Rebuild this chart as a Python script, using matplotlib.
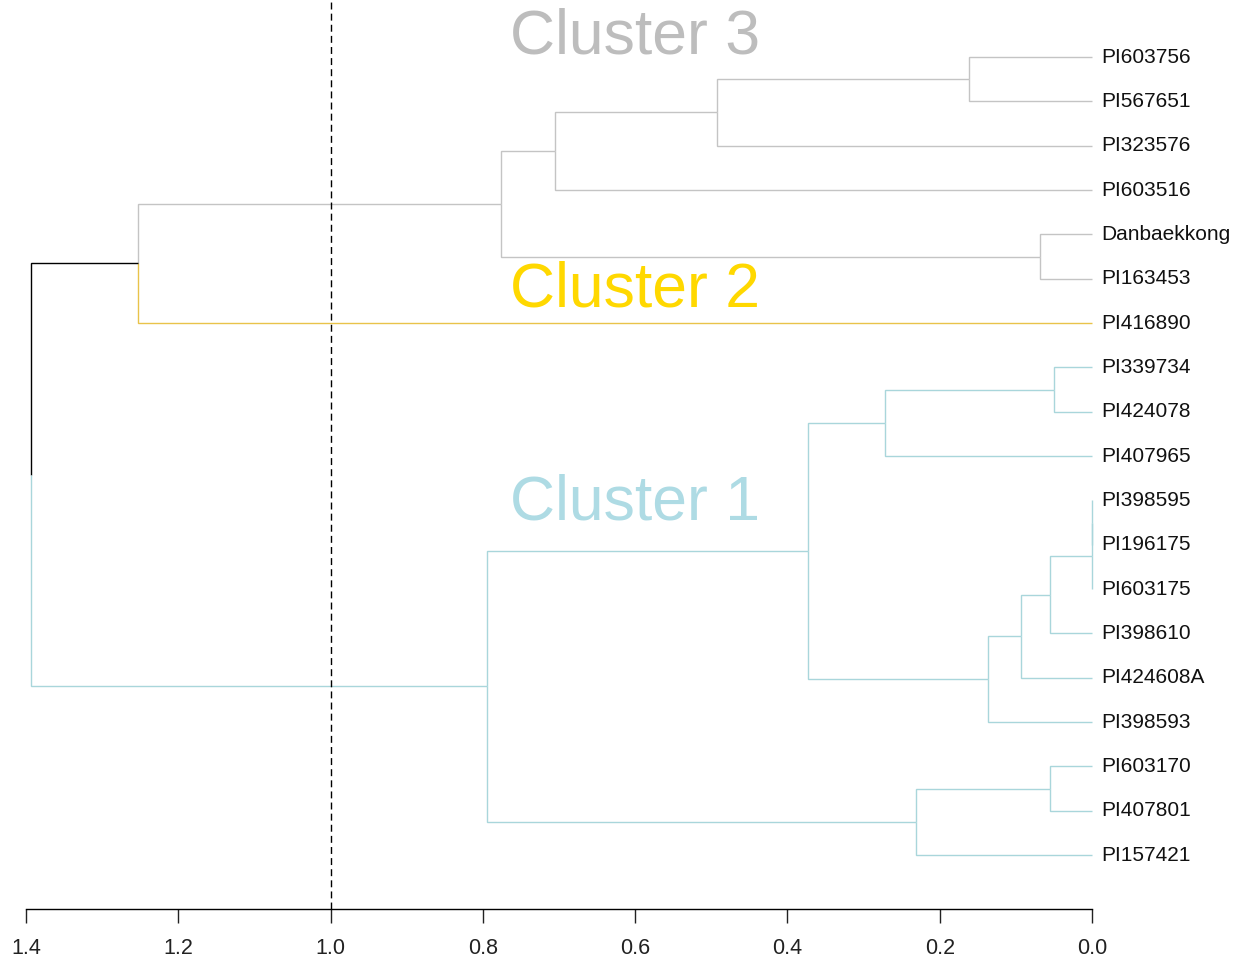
import matplotlib
matplotlib.use("Agg")
from matplotlib import pyplot as plt
from matplotlib import transforms

plt.rcParams['font.family'] = ['Liberation Sans', 'DejaVu Sans']

# leaves, top to bottom
leaves = ["PI603756", "PI567651", "PI323576", "PI603516", "Danbaekkong", "PI163453",
          "PI416890", "PI339734", "PI424078", "PI407965", "PI398595", "PI196175",
          "PI603175", "PI398610", "PI424608A", "PI398593", "PI603170", "PI407801",
          "PI157421"]
leaf_cluster = [3, 3, 3, 3, 3, 3, 2, 1, 1, 1, 1, 1, 1, 1, 1, 1, 1, 1, 1]

# merges: ids >= len(leaves) refer to earlier merges (scipy style)
merge_left = [10, 19, 20, 21, 22, 7, 24, 25, 16, 27, 26, 0, 30, 31, 4, 32, 34, 35]
merge_right = [11, 12, 13, 14, 15, 8, 9, 23, 17, 18, 28, 1, 2, 3, 5, 33, 6, 29]
merge_height = [0.0, 0.0, 0.055, 0.093, 0.137, 0.050, 0.272, 0.373, 0.055, 0.231,
                0.795, 0.1615, 0.4925, 0.705, 0.068, 0.776, 1.253, 1.393]

cut_height = 1.0
cluster_names = ["Cluster 1", "Cluster 2", "Cluster 3"]
cluster_colors = {1: "#a9d6db", 2: "#e9c34a", 3: "#c4c4c4"}
cluster_text_colors = {1: "#aedbe4", 2: "#ffd800", 3: "#bdbdbd"}
x_ticks = [1.4, 1.2, 1.0, 0.8, 0.6, 0.4, 0.2, 0.0]

n = len(leaves)
pos = {}
hgt = {}
col = {}
for i in range(n):
    pos[i] = i
    hgt[i] = 0.0
    col[i] = cluster_colors[leaf_cluster[i]]
for k in range(len(merge_left)):
    node = n + k
    a, b = merge_left[k], merge_right[k]
    pos[node] = (pos[a] + pos[b]) / 2
    hgt[node] = merge_height[k]
    col[node] = col[a] if col[a] == col[b] else "black"

fig = plt.figure(figsize=(12.34, 9.72), dpi=100)
ax = fig.add_axes([26 / 1234, 63 / 972, (1092 - 26) / 1234, 909 / 972])

# each edge: vertical from parent midpoint to child, then horizontal to child height
for k in range(len(merge_left)):
    node = n + k
    for child in (merge_left[k], merge_right[k]):
        ax.plot([hgt[node], hgt[node], hgt[child]], [pos[node], pos[child], pos[child]],
                color=col[child], lw=1.0, solid_capstyle='butt', solid_joinstyle='miter',
                clip_on=False)

ax.axvline(cut_height, color="black", lw=1.0, ls=(0, (5, 3)))

lab_tr = transforms.offset_copy(ax.transData, fig=fig, x=9, y=0, units='dots')
for i, name in enumerate(leaves):
    ax.text(0.0, i, name, transform=lab_tr, ha='left', va='center', fontsize=15,
            color="#111111", clip_on=False)

ax.text(0.6, -0.45, cluster_names[2], color=cluster_text_colors[3], fontsize=45,
        ha='center', va='center')
ax.text(0.6, 5.25, cluster_names[1], color=cluster_text_colors[2], fontsize=45,
        ha='center', va='center')
ax.text(0.6, 10.05, cluster_names[0], color=cluster_text_colors[1], fontsize=45,
        ha='center', va='center')

ax.set_xlim(1.4, 0.0)
ax.set_ylim(19.218, -1.286)
ax.set_xticks(x_ticks)
ax.set_xticklabels([f"{t:.1f}" for t in x_ticks])
ax.tick_params(axis='x', length=10, width=1.0, labelsize=15.5, pad=11, colors="#222222")
ax.set_yticks([])
for s in ("left", "right", "top"):
    ax.spines[s].set_visible(False)
ax.spines['bottom'].set_linewidth(1.0)
ax.patch.set_alpha(0)

fig.savefig("out.png", dpi=100)
